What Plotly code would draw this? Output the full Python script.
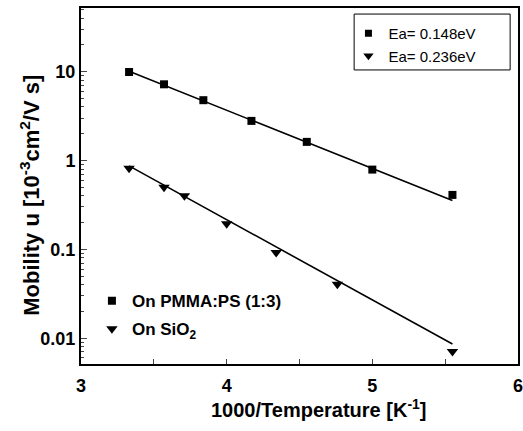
import plotly.graph_objects as go

# Data
x_pmma = [3.33, 3.57, 3.84, 4.17, 4.55, 5.00, 5.55]
y_pmma = [9.9, 7.2, 4.77, 2.79, 1.62, 0.79, 0.41]
x_sio2 = [3.33, 3.57, 3.71, 4.00, 4.34, 4.76, 5.55]
y_sio2 = [0.82, 0.50, 0.40, 0.194, 0.092, 0.0406, 0.0071]

# Fit lines (endpoints)
fit_x = [3.33, 5.55]
fit_pmma = [10.1, 0.354]
fit_sio2 = [0.87, 0.0086]

x_ticks = [3, 4, 5, 6]
x_ticktext = ["<b>3</b>", "<b>4</b>", "<b>5</b>", "<b>6</b>"]
y_ticks = [0.01, 0.1, 1, 10]
y_ticktext = ["<b>0.01</b>", "<b>0.1</b>", "<b>1</b>", "<b>10</b>"]

x_title = "<b>1000/Temperature [K<sup>-1</sup>]</b>"
y_title = "<b>Mobility u [10<sup>-3</sup>cm<sup>2</sup>/V s]</b>"

FONT = "Liberation Sans, Arial, sans-serif"

fig = go.Figure()

fig.add_trace(go.Scatter(x=fit_x, y=fit_pmma, mode="lines",
                         line=dict(color="black", width=1.6), showlegend=False))
fig.add_trace(go.Scatter(x=fit_x, y=fit_sio2, mode="lines",
                         line=dict(color="black", width=1.6), showlegend=False))

fig.add_trace(go.Scatter(x=x_pmma, y=y_pmma, mode="markers", name="<b>On PMMA:PS (1:3)</b>",
                         marker=dict(symbol="square", size=8, color="black"),
                         legend="legend", legendgroup="a"))
fig.add_trace(go.Scatter(x=x_sio2, y=y_sio2, mode="markers", name="<b>On SiO<sub>2</sub></b>",
                         marker=dict(symbol="triangle-down", size=10, color="black"),
                         legend="legend", legendgroup="b"))

# Activation-energy legend entries
fig.add_trace(go.Scatter(x=[None], y=[None], mode="markers", name="Ea= 0.148eV",
                         marker=dict(symbol="square", size=7, color="black"),
                         legend="legend2"))
fig.add_trace(go.Scatter(x=[None], y=[None], mode="markers", name="Ea= 0.236eV",
                         marker=dict(symbol="triangle-down", size=9, color="black"),
                         legend="legend2"))

# Box around the activation-energy legend
fig.add_shape(type="rect", xref="paper", yref="paper",
              x0=0.625, x1=0.982, y0=0.826, y1=0.983,
              line=dict(color="black", width=1), fillcolor="rgba(0,0,0,0)")

# Axis titles as annotations (positioned like the reference)
fig.add_annotation(text=x_title, xref="paper", yref="paper", x=0.545, y=-0.124,
                   xanchor="center", yanchor="middle", showarrow=False,
                   font=dict(size=20))
fig.add_annotation(text=y_title, xref="paper", yref="paper", x=-0.117, y=0.475,
                   xanchor="center", yanchor="middle", showarrow=False,
                   textangle=-90, font=dict(size=22))

fig.update_layout(
    width=523, height=431,
    margin=dict(l=81, r=5, t=8, b=67),
    paper_bgcolor="white", plot_bgcolor="white",
    font=dict(family=FONT, color="black"),
    legend=dict(x=0.025, y=0.227, xanchor="left", yanchor="top",
                font=dict(size=17), bgcolor="rgba(0,0,0,0)",
                tracegroupgap=3, itemwidth=30),
    legend2=dict(x=0.612, y=0.975, xanchor="left", yanchor="top",
                 font=dict(size=15), bgcolor="rgba(0,0,0,0)",
                 borderwidth=0, itemwidth=30),
    xaxis=dict(range=[3, 6], tickvals=x_ticks, ticktext=x_ticktext,
               ticks="inside", ticklen=5, tickwidth=1,
               showline=True, linecolor="black", linewidth=2, mirror=True,
               showgrid=False, zeroline=False, automargin=False,
               ticklabeloverflow="allow", ticklabelstandoff=4,
               tickfont=dict(size=18),
               minor=dict(dtick=0.5, ticks="inside", ticklen=5, tickwidth=1, showgrid=False)),
    yaxis=dict(type="log", range=[-2.29, 1.716], tickvals=y_ticks, ticktext=y_ticktext,
               ticks="inside", ticklen=6, tickwidth=1,
               showline=True, linecolor="black", linewidth=2, mirror=True,
               showgrid=False, zeroline=False, automargin=False,
               tickfont=dict(size=18),
               minor=dict(dtick="D1", ticks="inside", ticklen=3, tickwidth=1, showgrid=False)),
)

fig.write_html("out.html", config={"displayModeBar": False},
               post_script="document.body.style.margin='0';document.body.style.overflow='hidden';")
